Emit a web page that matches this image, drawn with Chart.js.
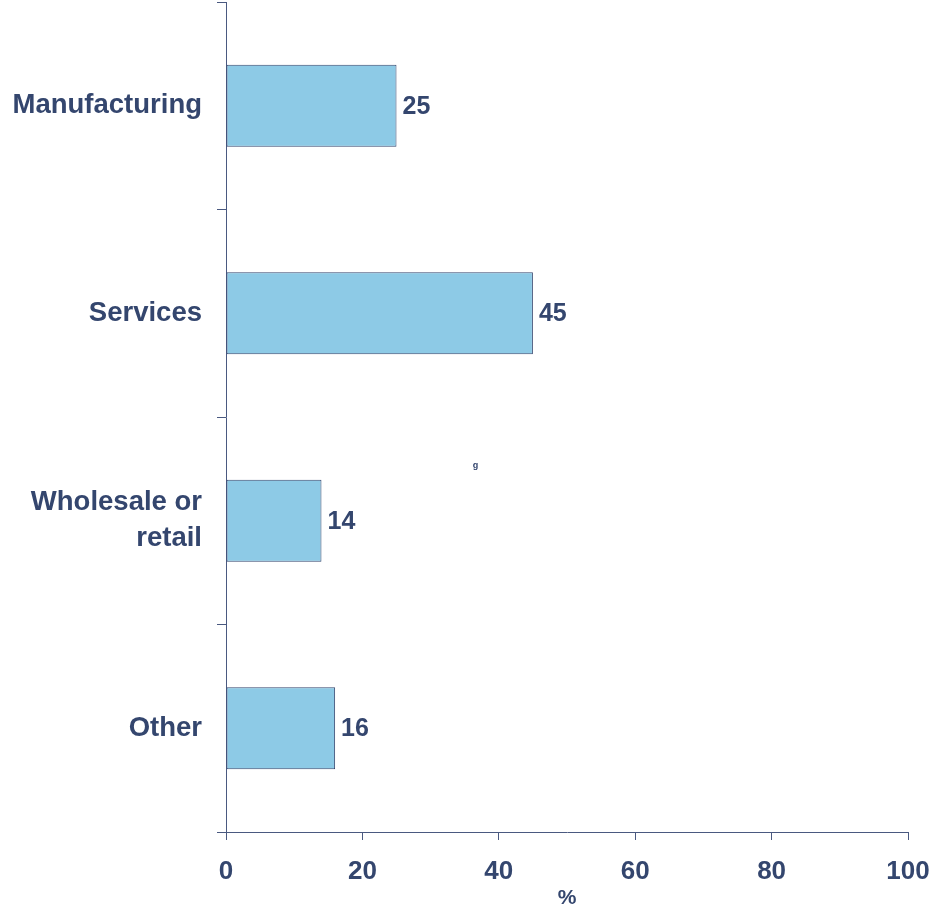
<!DOCTYPE html>
<html>
<head>
<meta charset="utf-8">
<script src="https://cdn.jsdelivr.net/npm/chart.js@4/dist/chart.umd.min.js"></script>
<style>
  html, body { margin: 0; padding: 0; background: #ffffff; }
  #wrap { width: 939px; height: 911px; position: relative; }
</style>
</head>
<body>
<div id="wrap"><canvas id="chart"></canvas></div>
<script>
(function () {
    'use strict';

    // Sector shares, in percent
    var categories = ['Manufacturing', 'Services', ['Wholesale or', 'retail'], 'Other'];
    var shares = [25, 45, 14, 16];
    var xTicks = [0, 20, 40, 60, 80, 100];
    var axisTitle = '%';
    var strayNote = 'g';

    var INK = '#34466e';
    var AXIS = '#4a5980';
    var BAR = '#8dcae6';
    var FONT = "'Liberation Sans', Arial, Helvetica, sans-serif";

    // Writes each bar's value just past its end
    var valueLabels = {
        id: 'valueLabels',
        afterDatasetsDraw: function (chart) {
            var ctx = chart.ctx;
            var meta = chart.getDatasetMeta(0);
            ctx.save();
            ctx.fillStyle = INK;
            ctx.font = 'bold 25px ' + FONT;
            ctx.textAlign = 'left';
            ctx.textBaseline = 'middle';
            meta.data.forEach(function (bar, i) {
                ctx.fillText(String(shares[i]), bar.x + 6, bar.y + 1);
            });
            // small leftover mark in the plot body
            var xs = chart.scales.x, ys = chart.scales.y;
            ctx.font = 'bold 9px ' + FONT;
            ctx.textAlign = 'center';
            ctx.fillText(strayNote, xs.getPixelForValue(36.6), ys.getPixelForValue(1.735));
            ctx.restore();
        }
    };

    new Chart(document.getElementById('chart'), {
        type: 'bar',
        data: {
            labels: categories,
            datasets: [{
                data: shares,
                backgroundColor: BAR,
                borderColor: INK,
                borderWidth: 1,
                borderSkipped: false,
                categoryPercentage: 1,
                barPercentage: 0.395
            }]
        },
        options: {
            indexAxis: 'y',
            responsive: true,
            maintainAspectRatio: false,
            animation: false,
            layout: { padding: { top: 2, right: 31, bottom: 0, left: 0 } },
            plugins: {
                legend: { display: false },
                tooltip: { enabled: false }
            },
            scales: {
                x: {
                    min: 0,
                    max: 100,
                    afterBuildTicks: function (scale) {
                        scale.ticks = xTicks.map(function (v) { return { value: v }; });
                    },
                    afterFit: function (scale) {
                        scale.height = 79;
                        scale.paddingLeft = 0;
                        scale.paddingRight = 0;
                    },
                    border: { display: true, color: AXIS, width: 1 },
                    grid: { drawOnChartArea: false, drawTicks: true, tickLength: 8, color: AXIS },
                    ticks: {
                        color: INK,
                        padding: 16,
                        maxRotation: 0,
                        font: { family: FONT, size: 26, weight: 'bold' }
                    },
                    title: {
                        display: true,
                        text: axisTitle,
                        color: INK,
                        padding: { top: 0, bottom: 0 },
                        font: { family: FONT, size: 21, weight: 'bold' }
                    }
                },
                y: {
                    afterFit: function (scale) {
                        scale.width = 226;
                        scale.paddingTop = 0;
                        scale.paddingBottom = 0;
                    },
                    border: { display: true, color: AXIS, width: 1 },
                    grid: { offset: true, drawOnChartArea: false, drawTicks: true, tickLength: 9, color: AXIS },
                    ticks: {
                        color: INK,
                        padding: 15,
                        font: { family: FONT, size: 27.5, weight: 'bold', lineHeight: 1.3 }
                    }
                }
            }
        },
        plugins: [valueLabels]
    });
})();
</script>
</body>
</html>
